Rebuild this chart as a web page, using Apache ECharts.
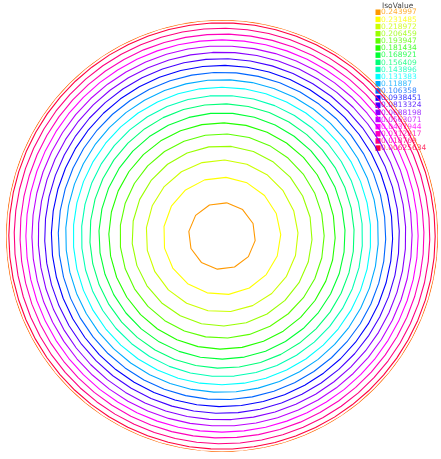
<!DOCTYPE html>
<html><head><meta charset="utf-8">
<script src="https://cdn.jsdelivr.net/npm/echarts@6/dist/echarts.min.js"></script>
<style>html,body{margin:0;padding:0;background:#fff}#c{width:441px;height:459px}</style>
</head><body><div id="c"></div>
<script>
// Iso values (legend, top = innermost contour)
const isoLabels = ['0.243997','0.231485','0.218972','0.206459','0.193947','0.181434','0.168921','0.156409','0.143896','0.131383','0.11887','0.106358','0.0938451','0.0813324','0.0688198','0.0563071','0.0437944','0.0312817','0.018769','0.00625634'];
const isoColors = ['#ff9900','#ffff00','#ccff00','#99ff00','#5cff00','#22ff00','#00ff33','#00ff77','#00ffb4','#00ffff','#00aaff','#0066ff','#0000ff','#4400ff','#8800ff','#bb00ff','#ff00ff','#ff00bb','#ff0080','#ff0040'];
// contour radius (fraction of the disk radius)
const ringRadius = [0.155,0.272,0.352,0.417,0.473,0.524,0.570,0.612,0.651,0.689,0.724,0.758,0.790,0.821,0.851,0.880,0.908,0.935,0.962,0.987];
// polygon vertex count of each contour (mesh resolution)
const ringVertices = [12,17,21,25,29,32,35,38,40,42,44,46,48,50,52,54,56,58,60,62];
const ringRotation = [8,4,2,6,3,1,5,2,4,0,3,5,1,2,4,3,0,2,1,3];
const boundaryRadius = 1.0, boundaryVertices = 64, boundaryColor = '#ff6600';

function ring(r, n, rot){
  const pts = [];
  for (let k = 0; k <= n; k++) pts.push([r, rot + 360 * k / n]);
  return pts;
}
const series = [];
series.push({type:'line', coordinateSystem:'polar', data: ring(boundaryRadius, boundaryVertices, 0),
  showSymbol:false, lineStyle:{color:boundaryColor, width:1.1}, silent:true});
ringRadius.forEach((r,i)=>{
  series.push({type:'line', coordinateSystem:'polar', name:isoLabels[i], data: ring(r, ringVertices[i], ringRotation[i]),
    showSymbol:false, lineStyle:{color:isoColors[i], width:1.1}, silent:true});
});

const graphic = [{type:'text', left:382, top:2, style:{text:'IsoValue', fill:'#444', font:'7.5px "DejaVu Sans"'}}];
isoLabels.forEach((t,i)=>{
  const y = 9.5 + i * 7.15;
  graphic.push({type:'rect', shape:{x:375.5, y:y, width:5, height:5.5}, style:{fill:isoColors[i]}});
  graphic.push({type:'text', x:381, y:y+3, style:{text:t, fill:isoColors[i], opacity:0.8, font:'7.5px "DejaVu Sans"', textVerticalAlign:'middle'}});
});

const chart = echarts.init(document.getElementById('c'), null, {renderer:'canvas'});
chart.setOption({
  animation:false,
  polar:{center:[222,236], radius:216},
  radiusAxis:{min:0, max:1, show:false},
  angleAxis:{type:'value', min:0, max:360, startAngle:90, show:false},
  series: series,
  graphic: graphic
});
</script></body></html>
